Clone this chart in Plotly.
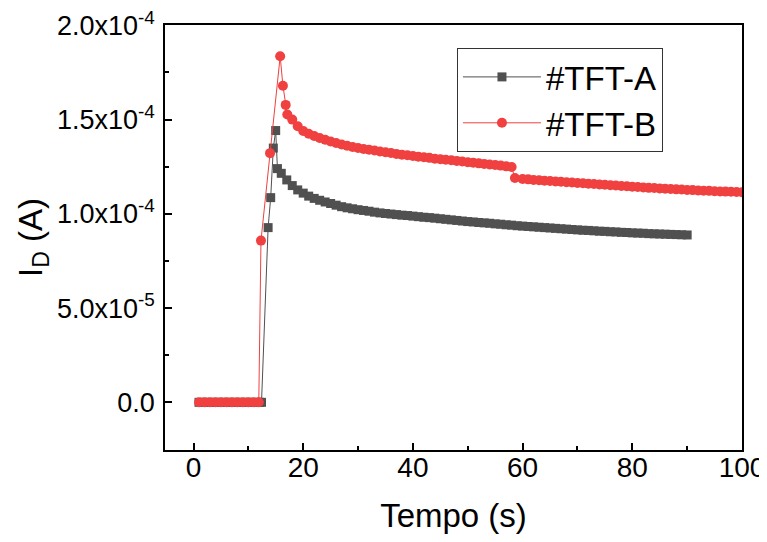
import plotly.graph_objects as go

# Drain current vs time

time_a = [1, 2, 3, 4, 5, 6, 7, 8, 9, 10, 11, 12, 12.4,
          13.6, 14.07, 14.55, 14.98, 15.3,
          16, 17, 18, 19, 20, 21, 22, 23, 24, 25, 26, 27, 28, 29, 30,
          31, 32, 33, 34, 35, 36, 37, 38, 39, 40, 41, 42, 43, 44, 45,
          46, 47, 48, 49, 50, 51, 52, 53, 54, 55, 56, 57, 58, 59, 60,
          61, 62, 63, 64, 65, 66, 67, 68, 69, 70, 71, 72, 73, 74, 75,
          76, 77, 78, 79, 80, 81, 82, 83, 84, 85, 86, 87, 88, 89, 90]
current_a = [0, 0, 0, 0, 0, 0, 0, 0, 0, 0, 0, 0, 0,
             9.27e-5, 1.086e-4, 1.349e-4, 1.442e-4, 1.24e-4,
             1.215e-4, 1.180e-4, 1.150e-4, 1.127e-4, 1.110e-4, 1.094e-4, 1.082e-4,
             1.072e-4, 1.063e-4, 1.055e-4, 1.046e-4, 1.038e-4, 1.032e-4, 1.027e-4,
             1.022e-4, 1.018e-4, 1.014e-4, 1.009e-4, 1.005e-4, 1.002e-4, 9.99e-5,
             9.96e-5, 9.93e-5, 9.91e-5, 9.88e-5, 9.85e-5, 9.82e-5, 9.80e-5,
             9.77e-5, 9.74e-5, 9.71e-5, 9.68e-5, 9.65e-5, 9.62e-5, 9.59e-5,
             9.57e-5, 9.54e-5, 9.52e-5, 9.50e-5, 9.47e-5, 9.45e-5, 9.42e-5,
             9.40e-5, 9.37e-5, 9.35e-5, 9.33e-5, 9.31e-5, 9.29e-5, 9.27e-5,
             9.25e-5, 9.23e-5, 9.21e-5, 9.19e-5, 9.17e-5, 9.15e-5, 9.13e-5,
             9.12e-5, 9.10e-5, 9.08e-5, 9.07e-5, 9.05e-5, 9.04e-5, 9.02e-5,
             9.01e-5, 8.99e-5, 8.98e-5, 8.97e-5, 8.95e-5, 8.94e-5, 8.93e-5,
             8.92e-5, 8.91e-5, 8.90e-5, 8.89e-5, 8.88e-5]

time_b = [1, 2, 3, 4, 5, 6, 7, 8, 9, 10, 11, 11.9,
          12.3, 13.95, 15.8, 16.3, 16.8, 17.1,
          18, 19, 20, 21, 22, 23, 24, 25, 26, 27, 28, 29, 30,
          31, 32, 33, 34, 35, 36, 37, 38, 39, 40, 41, 42, 43, 44, 45,
          46, 47, 48, 49, 50, 51, 52, 53, 54, 55, 56, 57, 58, 58.6,
          60, 61, 62, 63, 64, 65, 66, 67, 68, 69, 70, 71, 72, 73, 74, 75,
          76, 77, 78, 79, 80, 81, 82, 83, 84, 85, 86, 87, 88, 89, 90,
          91, 92, 93, 94, 95, 96, 97, 98, 99, 100, 101]
current_b = [0, 0, 0, 0, 0, 0, 0, 0, 0, 0, 0, 0,
             8.58e-5, 1.322e-4, 1.836e-4, 1.68e-4, 1.578e-4, 1.527e-4,
             1.500e-4, 1.465e-4, 1.440e-4, 1.425e-4, 1.413e-4, 1.402e-4, 1.393e-4,
             1.384e-4, 1.376e-4, 1.368e-4, 1.361e-4, 1.355e-4, 1.349e-4,
             1.344e-4, 1.340e-4, 1.336e-4, 1.331e-4, 1.327e-4, 1.323e-4, 1.318e-4,
             1.314e-4, 1.311e-4, 1.307e-4, 1.303e-4, 1.300e-4, 1.297e-4, 1.293e-4,
             1.290e-4, 1.287e-4, 1.284e-4, 1.281e-4, 1.278e-4, 1.274e-4, 1.271e-4,
             1.268e-4, 1.265e-4, 1.262e-4, 1.259e-4, 1.256e-4, 1.252e-4, 1.249e-4,
             1.190e-4,
             1.185e-4, 1.183e-4, 1.180e-4, 1.178e-4, 1.176e-4, 1.174e-4, 1.172e-4,
             1.170e-4, 1.168e-4, 1.166e-4, 1.164e-4, 1.162e-4, 1.160e-4, 1.158e-4,
             1.156e-4, 1.154e-4, 1.152e-4, 1.150e-4, 1.148e-4, 1.146e-4, 1.144e-4,
             1.142e-4, 1.140e-4, 1.138e-4, 1.137e-4, 1.135e-4, 1.133e-4, 1.132e-4,
             1.130e-4, 1.129e-4, 1.127e-4, 1.126e-4, 1.124e-4, 1.123e-4, 1.122e-4,
             1.120e-4, 1.119e-4, 1.118e-4, 1.117e-4, 1.116e-4, 1.115e-4, 1.114e-4]

x_ticks = [0, 20, 40, 60, 80, 100]
y_ticks = [0, 5e-5, 1e-4, 1.5e-4, 2e-4]
y_tick_labels = ["0.0", "5.0x10<sup>-5</sup>", "1.0x10<sup>-4</sup>",
                 "1.5x10<sup>-4</sup>", "2.0x10<sup>-4</sup>"]

FONT = "Arial, Liberation Sans, sans-serif"

fig = go.Figure()

fig.add_trace(go.Scatter(
    x=time_a, y=current_a, name="#TFT-A", mode="lines+markers",
    line=dict(color="#505050", width=1),
    marker=dict(symbol="square", size=9, color="#505050")
))

fig.add_trace(go.Scatter(
    x=time_b, y=current_b, name="#TFT-B", mode="lines+markers",
    line=dict(color="#F04040", width=1),
    marker=dict(symbol="circle", size=10, color="#F04040")
))

axis_style = dict(
    showline=True, linecolor="black", linewidth=1.5, mirror=True,
    ticks="inside", ticklen=7, tickwidth=1.5, tickcolor="black",
    showgrid=False, zeroline=False, automargin=False,
    ticklabeloverflow="allow",
)

fig.update_xaxes(
    **axis_style,
    range=[-5.2, 100],
    tickvals=x_ticks,
    tickfont=dict(family=FONT, size=28, color="black"),
    ticklabelstandoff=-8,
    minor=dict(ticks="inside", ticklen=4, tickwidth=1.5, tickcolor="black", dtick=10),
    title=dict(text="Tempo (s)", font=dict(family=FONT, size=33, color="black"), standoff=22),
)

fig.update_yaxes(
    **axis_style,
    range=[-2.53e-5, 2.002e-4],
    tickvals=y_ticks,
    ticktext=y_tick_labels,
    tickfont=dict(family=FONT, size=27, color="black"),
    ticklabelstandoff=3,
    minor=dict(ticks="inside", ticklen=4, tickwidth=1.5, tickcolor="black", dtick=2.5e-5),
    title=dict(text="I<sub>D</sub> (A)", font=dict(family=FONT, size=33, color="black"), standoff=4),
)

# the page body adds an 8px offset, so the margins are shifted to compensate
fig.update_layout(
    width=767, height=542,
    margin=dict(l=157, r=33, t=17, b=100),
    plot_bgcolor="white", paper_bgcolor="white",
    legend=dict(
        x=0.506, y=0.946, xanchor="left", yanchor="top",
        bordercolor="#333333", borderwidth=1, bgcolor="white",
        font=dict(family=FONT, size=33, color="black"),
        itemwidth=78, tracegroupgap=0,
    ),
)

fig.write_html("out.html")
